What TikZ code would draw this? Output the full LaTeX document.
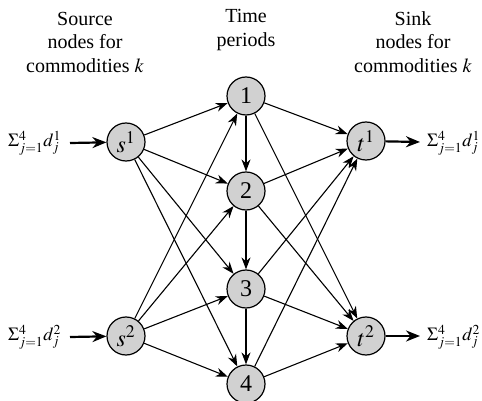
\documentclass[tikz,border=0pt]{standalone}
\usepackage{mathptmx}
\usepackage{fontspec}
\setmainfont{Liberation Serif}
\usetikzlibrary{arrows.meta,calc}
\newcommand{\totaldemand}[1]{$\Sigma_{j=1}^{4}d_j^{#1}$}
\begin{document}
\begin{tikzpicture}[x=1pt,y=-1pt,
  vertex/.style={circle,draw,line width=1.2pt,fill=black!18,minimum size=38pt,inner sep=0pt,
    font=\fontsize{24}{24}\selectfont},
  flow/.style={line width=1.1pt,-{Stealth[length=12pt,width=9pt]}},
  supply/.style={line width=2.2pt,-{Stealth[length=14pt,width=11pt]}},
  heading/.style={align=center,font=\fontsize{20}{23.5}\selectfont},
  demand/.style={font=\fontsize{18.5}{18.5}\selectfont,inner sep=0pt}]
\useasboundingbox (0,0) rectangle (482,401);

% column headings
\node[heading] (hsrc) at (85,42) {Source\\nodes for\\commodities $k$};
\node[heading] (htime) at (246,30) {Time\\periods};
\node[heading] (hsink) at (413,42) {Sink\\nodes for\\commodities $k$};

% source, period and sink nodes
\node[vertex] (s1) at (126,142) {$s^1$};
\node[vertex] (s2) at (126,336) {$s^2$};
\node[vertex] (p1) at (246,96) {1};
\node[vertex] (p2) at (246,191) {2};
\node[vertex] (p3) at (246,289) {3};
\node[vertex] (p4) at (246,384) {4};
\node[vertex] (t1) at (366,141) {$t^1$};
\node[vertex] (t2) at (366,336) {$t^2$};

% supplies and demands
\node[demand,anchor=west] (d1in) at (8,143) {\totaldemand{1}};
\node[demand,anchor=west] (d2in) at (8,337) {\totaldemand{2}};
\node[demand,anchor=west] (d1out) at (427,143) {\totaldemand{1}};
\node[demand,anchor=west] (d2out) at (427,337) {\totaldemand{2}};
\coordinate (a1) at (70,143);
\coordinate (a2) at (70,337);
\coordinate (b1) at (420,142);
\coordinate (b2) at (420,336);
\draw[supply] (a1) -- (s1);
\draw[supply] (a2) -- (s2);
\draw[supply] (t1) -- (b1);
\draw[supply] (t2) -- (b2);

% arcs from sources to periods, between periods, and to sinks
\foreach \s in {s1,s2}
  \foreach \p in {p1,p2,p3,p4}
    \draw[flow] (\s) -- (\p);
\draw[flow] (p1) -- (p2);
\draw[flow] (p2) -- (p3);
\draw[flow] (p3) -- (p4);
\foreach \p in {p1,p2,p3,p4}
  \foreach \t in {t1,t2}
    \draw[flow] (\p) -- (\t);
\end{tikzpicture}
\end{document}
